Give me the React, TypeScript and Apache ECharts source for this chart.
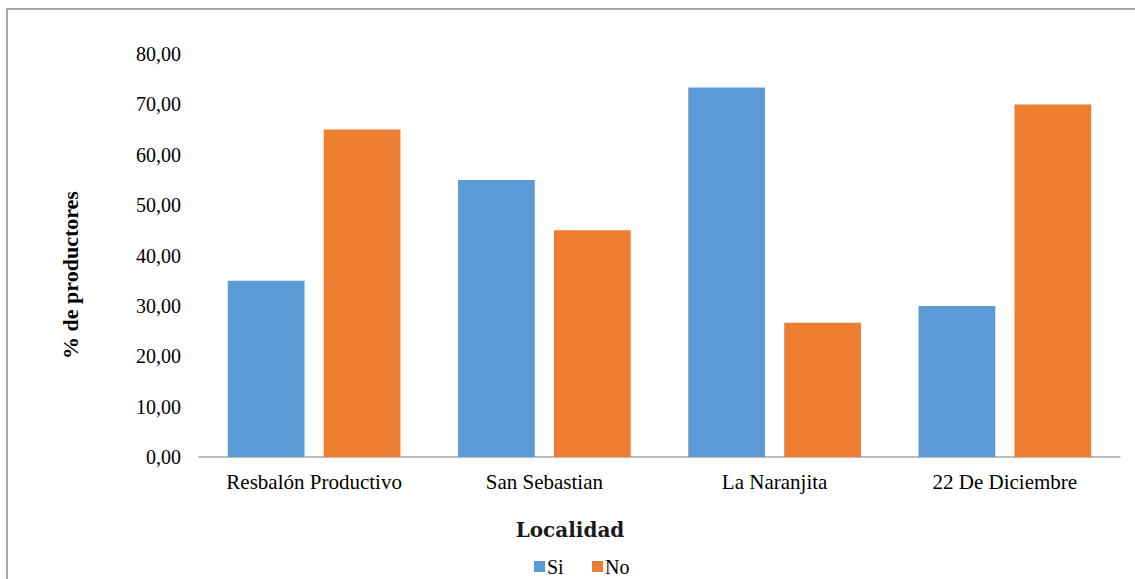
import React, { useEffect, useRef } from "react";
import * as echarts from "echarts";

const categories = ["Resbalón Productivo", "San Sebastian", "La Naranjita", "22 De Diciembre"];
const siValues = [35.0, 55.0, 73.33, 30.0];
const noValues = [65.0, 45.0, 26.67, 70.0];
const seriesNames = ["Si", "No"];
const seriesColors = ["#5b9bd5", "#ed7d31"];

export default function App() {
  const ref = useRef<HTMLDivElement>(null);
  useEffect(() => {
    document.body.style.margin = "0";
    const chart = echarts.init(ref.current!, null, { renderer: "svg" });
    const serif = "Liberation Serif";
    const legendX = [534, 592];
    const legendGraphics: any[] = [];
    seriesNames.forEach((name, i) => {
      legendGraphics.push({
        type: "rect",
        shape: { x: legendX[i], y: 561, width: 11, height: 11 },
        style: { fill: seriesColors[i] },
        silent: true,
      });
      legendGraphics.push({
        type: "text",
        x: legendX[i] + 13,
        y: 567,
        style: {
          text: name,
          fontFamily: serif,
          fontSize: 20,
          fill: "#000",
          align: "left",
          verticalAlign: "middle",
        },
      });
    });
    chart.setOption({
      animation: false,
      backgroundColor: "#ffffff",
      textStyle: { fontFamily: serif },
      grid: { left: 199, right: 15, top: 54, bottom: 122, containLabel: false },
      xAxis: {
        type: "category",
        data: categories,
        axisLine: { show: true, lineStyle: { color: "#a6a6a6", width: 1.5 } },
        axisTick: { show: false },
        axisLabel: { color: "#000", fontFamily: serif, fontSize: 21, margin: 14 },
      },
      yAxis: {
        type: "value",
        min: 0,
        max: 80,
        interval: 10,
        splitLine: { show: false },
        axisLine: { show: false },
        axisTick: { show: false },
        axisLabel: {
          color: "#000",
          fontFamily: serif,
          fontSize: 20,
          margin: 18,
          formatter: (v: number) => v.toFixed(2).replace(".", ","),
        },
      },
      series: [
        {
          name: seriesNames[0],
          type: "bar",
          data: siValues,
          itemStyle: { color: seriesColors[0] },
          barGap: "25%",
          barCategoryGap: "25%",
        },
        {
          name: seriesNames[1],
          type: "bar",
          data: noValues,
          itemStyle: { color: seriesColors[1] },
        },
      ],
      graphic: [
        {
          type: "rect",
          shape: { x: 7, y: 9, width: 1300, height: 800 },
          style: { fill: "none", stroke: "#a6a6a6", lineWidth: 2 },
          silent: true,
        },
        {
          type: "text",
          x: 70,
          y: 275,
          rotation: Math.PI / 2,
          style: {
            text: "% de productores",
            fontFamily: serif,
            fontWeight: "bold",
            fontSize: 22,
            fill: "#000",
            align: "center",
            verticalAlign: "middle",
          },
        },
        {
          type: "text",
          x: 570,
          y: 530,
          style: {
            text: "Localidad",
            fontFamily: "DejaVu Serif",
            fontWeight: "bold",
            fontSize: 20,
            fill: "#1a1a1a",
            align: "center",
            verticalAlign: "middle",
          },
        },
        ...legendGraphics,
      ],
    });
    return () => chart.dispose();
  }, []);
  return <div ref={ref} style={{ width: 1135, height: 579 }} />;
}
